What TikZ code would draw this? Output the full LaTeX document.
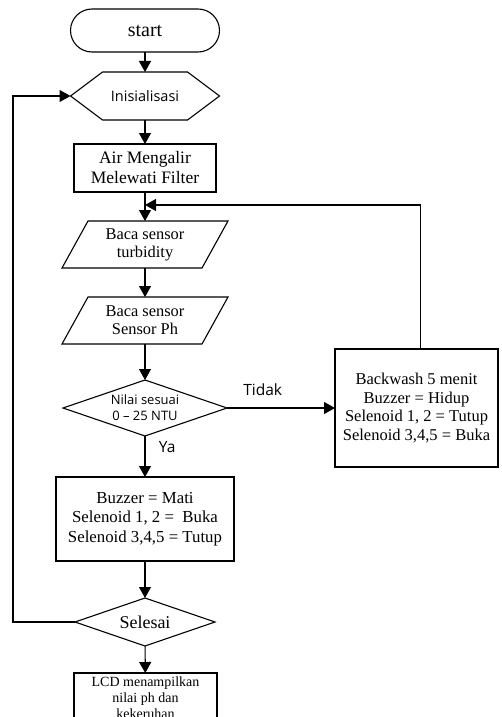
\documentclass[tikz,border=0pt]{standalone}
\usepackage{fontspec}
\setmainfont{Liberation Serif}
\newfontfamily\labelfont{Open Sans}
\usetikzlibrary{shapes,arrows.meta,positioning}

\tikzset{
	flowline/.style={black, line width=1.1pt},
	flowarrow/.style={flowline, -{Triangle[length=11pt,width=12pt]}},
	procbox/.style={draw, line width=1.1pt, outer sep=0pt, align=center, inner sep=2pt},
	shapebox/.style={outer sep=0pt, align=center, inner sep=2pt},
	decision/.style={diamond, draw, line width=1.1pt, outer sep=0pt, inner sep=0pt, aspect=2.9, align=center},
	terminal/.style={procbox, rounded corners=21.5pt, minimum width=149pt, minimum height=43pt, font=\fontsize{20}{22}\selectfont},
	branchlabel/.style={font=\labelfont\fontsize{15.5}{17}\selectfont}
}

\begin{document}
\begin{tikzpicture}[x=1pt, y=-1pt]
	
		% Page frame
		\useasboundingbox (0,0) rectangle (502,717);
		
		% Start
		\node[terminal] (start) at (145,30.5) {start};
		
		% Inisialisasi - hexagon drawn round a plain node
		\node[shapebox, minimum width=149pt, minimum height=48pt, font=\labelfont\fontsize{14.5}{16}\selectfont] (init) at (145,96) {Inisialisasi};
		\draw [flowline] ([xshift=32pt]init.north west) -- ([xshift=-32pt]init.north east) -- (init.east)
			-- ([xshift=-32pt]init.south east) -- ([xshift=32pt]init.south west) -- (init.west) -- cycle;
		
		% Air mengalir
		\node[procbox, minimum width=142pt, minimum height=48pt, font=\fontsize{17.5}{20}\selectfont] (filter) at (145,168) {Air Mengalir\\Melewati Filter};
		
		% Join point of the backwash loop
		\coordinate (join) at (145,205);
		
		% Sensors - parallelograms drawn round plain nodes
		\node[shapebox, minimum width=166pt, minimum height=47pt, font=\fontsize{16.4}{18}\selectfont] (turb) at (145,244.5) {Baca sensor\\turbidity};
		\draw [flowline] ([xshift=26pt]turb.north west) -- (turb.north east) -- ([xshift=-26pt]turb.south east) -- (turb.south west) -- cycle;
		
		\node[shapebox, minimum width=166pt, minimum height=47pt, font=\fontsize{16.4}{18}\selectfont] (ph) at (145,320.5) {Baca sensor\\Sensor Ph};
		\draw [flowline] ([xshift=26pt]ph.north west) -- (ph.north east) -- ([xshift=-26pt]ph.south east) -- (ph.south west) -- cycle;
		
		% Check NTU
		\node[decision, minimum width=164pt, minimum height=56pt, font=\labelfont\fontsize{13}{16}\selectfont] (cek) at (145,408) {Nilai sesuai\\0 – 25 NTU};
		
		% Backwash
		\node[procbox, minimum width=163pt, minimum height=118pt, font=\fontsize{16.5}{18.5}\selectfont] (back) at (416.5,408) {Backwash 5 menit\\Buzzer = Hidup\\Selenoid 1, 2 = Tutup\\Selenoid 3,4,5 = Buka};
		
		% Normal run
		\node[procbox, minimum width=178pt, minimum height=84pt, font=\fontsize{16.8}{19.5}\selectfont] (buzz) at (145,519) {Buzzer = Mati\\Selenoid 1, 2 = \ Buka\\Selenoid 3,4,5 = Tutup};
		
		% Selesai
		\node[decision, minimum width=140pt, minimum height=48pt, font=\fontsize{18}{20}\selectfont] (sel) at (145,622) {Selesai};
		
		% LCD (runs off the page)
		\node[procbox, anchor=north, minimum width=143pt, minimum height=70pt, inner ysep=4pt, text depth=0pt, font=\fontsize{14}{16}\selectfont] (lcd) at (145.5,673) {LCD menampilkan\\nilai ph dan\\kekeruhan\\[20pt]};
		
		% Loop back to Inisialisasi
		\coordinate (loopx) at (13,400);
		
		% Connectors
		\draw [flowarrow] (start) -- (init);
		\draw [flowarrow] (init) -- (filter);
		\draw [flowline] (filter) -- (join);
		\draw [flowarrow] (join) -- (turb);
		\draw [flowarrow] (turb) -- (ph);
		\draw [flowarrow] (ph) -- (cek);
		\draw [flowarrow] (cek) -- node[pos=0.33, above=8pt, branchlabel] {Tidak} (back);
		\draw [flowarrow] ([xshift=4pt]back.north) |- (join);
		\draw [flowarrow] (cek) -- node[pos=0.27, right=10pt, branchlabel] {Ya} (buzz);
		\draw [flowarrow] (buzz) -- (sel);
		\draw [flowarrow] (sel) -- (lcd);
		\draw [flowarrow] (sel.west) -- (sel.west -| loopx) |- (init.west);
	\end{tikzpicture}
\end{document}
